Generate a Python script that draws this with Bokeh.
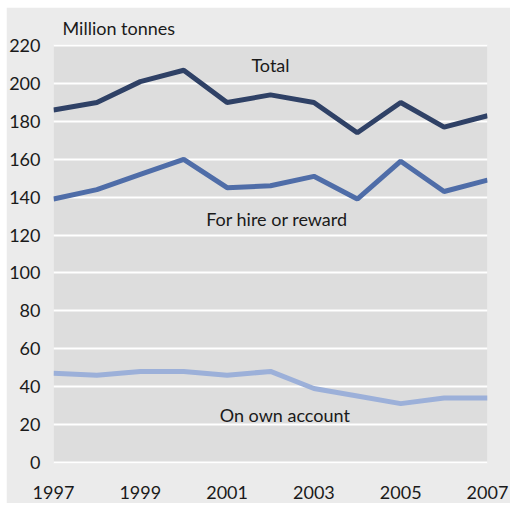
from bokeh.plotting import figure
from bokeh.models import Range1d, Label, FixedTicker, ColumnDataSource, Spacer
from bokeh.layouts import column, row
from bokeh.embed import file_html
from bokeh.resources import INLINE

years = [1997, 1998, 1999, 2000, 2001, 2002, 2003, 2004, 2005, 2006, 2007]
total = [186, 190, 201, 207, 190, 194, 190, 174, 190, 177, 183]
hire = [139, 144, 152, 160, 145, 146, 151, 139, 159, 143, 149]
own = [47, 46, 48, 48, 46, 48, 39, 35, 31, 34, 34]
y_ticks = [0, 20, 40, 60, 80, 100, 120, 140, 160, 180, 200, 220]
x_ticks = [1997, 1999, 2001, 2003, 2005, 2007]

FONT = "Lato"
TXT = "#1a1a1a"

p = figure(width=504, height=496, output_backend="svg", toolbar_location=None,
           x_range=Range1d(1997, 2007), y_range=Range1d(-0.6, 220.6),
           min_border_left=47, min_border_right=23, min_border_top=37, min_border_bottom=40,
           title="Million tonnes")
p.background_fill_color = "#dddddd"
p.border_fill_color = "#ebebeb"
p.outline_line_color = None

p.title.text_font = FONT
p.title.text_font_size = "18px"
p.title.text_font_style = "normal"
p.title.text_color = TXT
p.title.align = "left"
p.title.offset = 9
p.title.standoff = 11

p.xgrid.grid_line_color = None
p.ygrid.grid_line_color = "white"
p.ygrid.grid_line_width = 2
p.ygrid.ticker = FixedTicker(ticks=y_ticks)

for ax in (p.xaxis[0], p.yaxis[0]):
    ax.axis_line_color = None
    ax.major_tick_line_color = None
    ax.minor_tick_line_color = None
    ax.major_tick_out = 0
    ax.major_tick_in = 0
    ax.axis_label_standoff = 0
    ax.major_label_text_font = FONT
    ax.major_label_text_font_size = "18px"
    ax.major_label_text_color = TXT
p.yaxis[0].ticker = FixedTicker(ticks=y_ticks)
p.xaxis[0].ticker = FixedTicker(ticks=x_ticks)
p.yaxis[0].major_label_standoff = 13
p.xaxis[0].major_label_standoff = 22

src = ColumnDataSource(dict(year=years, total=total, hire=hire, own=own))
p.line("year", "own", source=src, line_color="#9cb0d9", line_width=5)
p.line("year", "hire", source=src, line_color="#4f6da8", line_width=5)
p.line("year", "total", source=src, line_color="#2f4166", line_width=5)

for txt, x, y in [("Total", 2002.0, 210), ("For hire or reward", 2002.15, 128.5),
                  ("On own account", 2002.33, 25)]:
    p.add_layout(Label(x=x, y=y, text=txt, text_font=FONT, text_font_size="18px",
                       text_color=TXT, text_align="center", text_baseline="middle"))

layout = column(Spacer(height=7), row(Spacer(width=6), p))
open("out.html", "w").write(file_html(layout, INLINE))
